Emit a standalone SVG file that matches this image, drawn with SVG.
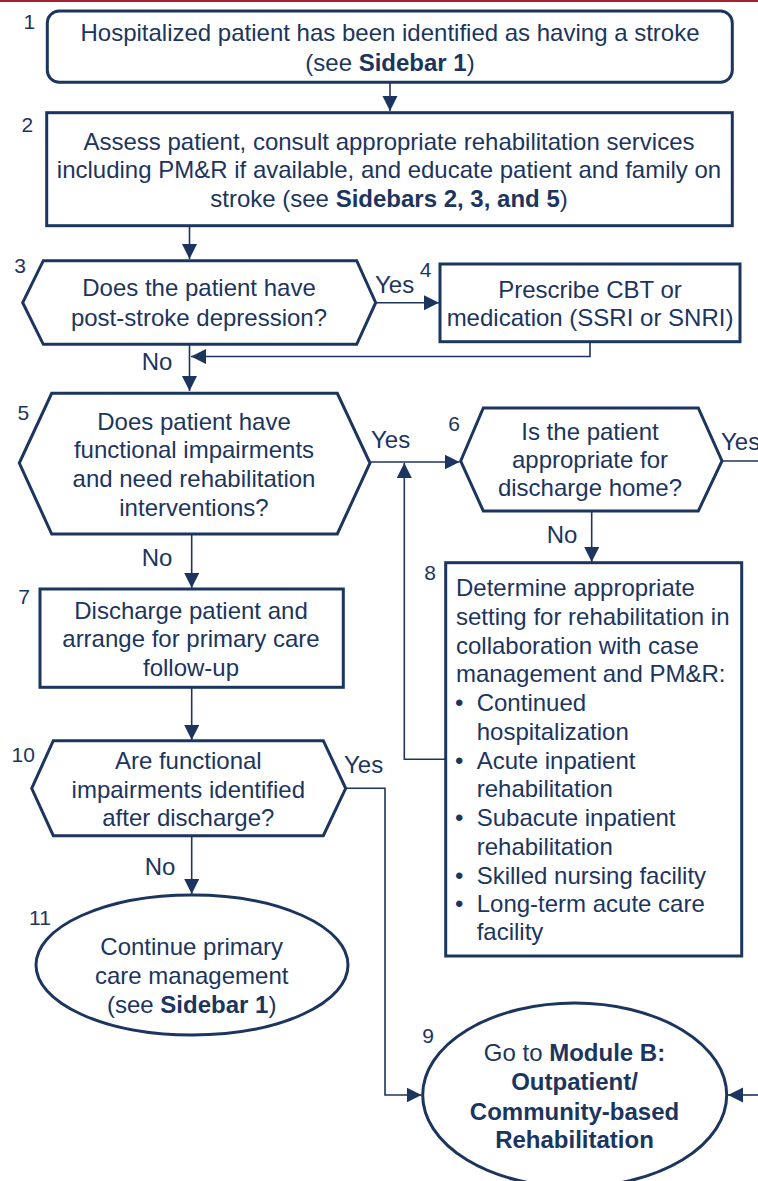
<svg xmlns="http://www.w3.org/2000/svg" width="758" height="1181" viewBox="0 0 758 1181">
<style>
text{font-family:"Liberation Sans",Arial,sans-serif;fill:#1c355e}
.t{font-size:24px;text-anchor:middle}
.l{font-size:24px}
.n{font-size:21px;text-anchor:middle}
.b{font-weight:bold}
.shape{fill:#fff;stroke:#1c355e;stroke-width:3}
.c{fill:none;stroke:#1c355e;stroke-width:1.6}
</style>
<defs>
<marker id="ah" markerUnits="userSpaceOnUse" markerWidth="16" markerHeight="16" refX="15" refY="7.5" orient="auto">
<path d="M0,0 L15,7.5 L0,15 z" fill="#1c355e"/>
</marker>
</defs>
<rect x="0" y="0" width="758" height="2" fill="#a4212f"/>

<g id="connectors">
<path class="c" d="M390,82.5 V111" marker-end="url(#ah)"/>
<path class="c" d="M189.5,226 V259" marker-end="url(#ah)"/>
<path class="c" d="M376,302.7 H439" marker-end="url(#ah)"/>
<path class="c" d="M590,342 V356.5 H191" marker-end="url(#ah)"/>
<path class="c" d="M189.5,344.5 V391" marker-end="url(#ah)"/>
<path class="c" d="M370,462 H459.5" marker-end="url(#ah)"/>
<path class="c" d="M722,461 H758"/>
<path class="c" d="M591.7,511 V562" marker-end="url(#ah)"/>
<path class="c" d="M445.7,759.3 H404.3 V463" marker-end="url(#ah)"/>
<path class="c" d="M191.7,534 V588" marker-end="url(#ah)"/>
<path class="c" d="M191.7,687.5 V740" marker-end="url(#ah)"/>
<path class="c" d="M345.7,788.3 H385 V1095 H421.5" marker-end="url(#ah)"/>
<path class="c" d="M191.7,836 V894" marker-end="url(#ah)"/>
<path class="c" d="M758,1095 H728" marker-end="url(#ah)"/>
<text class="l" x="375" y="293">Yes</text>
<text class="t" x="157" y="369.7">No</text>
<text class="l" x="371" y="448">Yes</text>
<text class="l" x="721" y="449.7">Yes</text>
<text class="t" x="562" y="543">No</text>
<text class="t" x="157" y="566.3">No</text>
<text class="l" x="344" y="773">Yes</text>
<text class="t" x="160" y="874.7">No</text>
</g>

<g id="node1">
<rect class="shape" x="47.3" y="11" width="685" height="71.3" rx="12"/>
<text class="n" x="29.3" y="28.5">1</text>
<text class="t" x="390" y="41.3">Hospitalized patient has been identified as having a stroke</text>
<text class="t" x="390" y="70.7">(see <tspan class="b">Sidebar 1</tspan>)</text>
</g>

<g id="node2">
<rect class="shape" x="46.7" y="112.7" width="685.6" height="113"/>
<text class="n" x="27.3" y="131.5">2</text>
<text class="t" x="389" y="149.7">Assess patient, consult appropriate rehabilitation services</text>
<text class="t" x="389" y="178">including PM&amp;R if available, and educate patient and family on</text>
<text class="t" x="389" y="207">stroke (see <tspan class="b">Sidebars 2, 3, and 5</tspan>)</text>
</g>

<g id="node3">
<polygon class="shape" points="22.7,302.7 43.3,260.7 356.7,260.7 375.7,302.7 356.7,344.3 43.3,344.3"/>
<text class="n" x="20" y="272.5">3</text>
<text class="t" x="199" y="296.3">Does the patient have</text>
<text class="t" x="199" y="326.3">post-stroke depression?</text>
</g>

<g id="node4">
<rect class="shape" x="440" y="264" width="300" height="77.7"/>
<text class="n" x="425.7" y="277">4</text>
<text class="t" x="590" y="298">Prescribe CBT or</text>
<text class="t" x="590" y="326.3">medication (SSRI or SNRI)</text>
</g>

<g id="node5">
<polygon class="shape" points="19.3,463 51.7,393.3 337.3,393.3 370,463 337.3,534 51.7,534"/>
<text class="n" x="23.3" y="420">5</text>
<text class="t" x="194" y="429.7">Does patient have</text>
<text class="t" x="194" y="458">functional impairments</text>
<text class="t" x="194" y="487">and need rehabilitation</text>
<text class="t" x="194" y="515.7">interventions?</text>
</g>

<g id="node6">
<polygon class="shape" points="460.7,461 483.3,408 698.3,408 722,461 698.3,511 483.3,511"/>
<text class="n" x="454" y="430.5">6</text>
<text class="t" x="590" y="439.7">Is the patient</text>
<text class="t" x="590" y="468">appropriate for</text>
<text class="t" x="590" y="496.3">discharge home?</text>
</g>

<g id="node7">
<rect class="shape" x="40" y="589" width="303.3" height="98.3"/>
<text class="n" x="24" y="603.5">7</text>
<text class="t" x="191" y="619">Discharge patient and</text>
<text class="t" x="191" y="647.3">arrange for primary care</text>
<text class="t" x="191" y="676.3">follow-up</text>
</g>

<g id="node8">
<rect class="shape" x="445.7" y="562.7" width="296" height="393.3"/>
<text class="n" x="430" y="579.5">8</text>
<text class="l" x="456" y="596.3">Determine appropriate</text>
<text class="l" x="456" y="624.7">setting for rehabilitation in</text>
<text class="l" x="456" y="653.7">collaboration with case</text>
<text class="l" x="456" y="682">management and PM&amp;R:</text>
<text class="l" x="455" y="711.3">•</text><text class="l" x="476.7" y="711.3">Continued</text>
<text class="l" x="476.7" y="739.7">hospitalization</text>
<text class="l" x="455" y="768.7">•</text><text class="l" x="476.7" y="768.7">Acute inpatient</text>
<text class="l" x="476.7" y="797">rehabilitation</text>
<text class="l" x="455" y="826.3">•</text><text class="l" x="476.7" y="826.3">Subacute inpatient</text>
<text class="l" x="476.7" y="854.7">rehabilitation</text>
<text class="l" x="455" y="883.7">•</text><text class="l" x="476.7" y="883.7">Skilled nursing facility</text>
<text class="l" x="455" y="912">•</text><text class="l" x="476.7" y="912">Long-term acute care</text>
<text class="l" x="476.7" y="940.3">facility</text>
</g>

<g id="node10">
<polygon class="shape" points="31.7,788.3 53.3,740.7 323.3,740.7 345.7,788.3 323.3,835.7 53.3,835.7"/>
<text class="n" x="23.3" y="761.5">10</text>
<text class="t" x="188.3" y="769">Are functional</text>
<text class="t" x="188.3" y="798">impairments identified</text>
<text class="t" x="188.3" y="826.3">after discharge?</text>
</g>

<g id="node11">
<ellipse class="shape" cx="192" cy="965" rx="156" ry="70"/>
<text class="n" x="40" y="924.5">11</text>
<text class="t" x="191.7" y="954.7">Continue primary</text>
<text class="t" x="191.7" y="983.7">care management</text>
<text class="t" x="191.7" y="1013">(see <tspan class="b">Sidebar 1</tspan>)</text>
</g>

<g id="node9">
<ellipse class="shape" cx="574.7" cy="1095" rx="152" ry="92"/>
<text class="n" x="428" y="1042.5">9</text>
<text class="t" x="574.5" y="1061">Go to <tspan class="b">Module B:</tspan></text>
<text class="t b" x="574.5" y="1090">Outpatient/</text>
<text class="t b" x="574.5" y="1120">Community-based</text>
<text class="t b" x="574.5" y="1148">Rehabilitation</text>
</g>
</svg>
